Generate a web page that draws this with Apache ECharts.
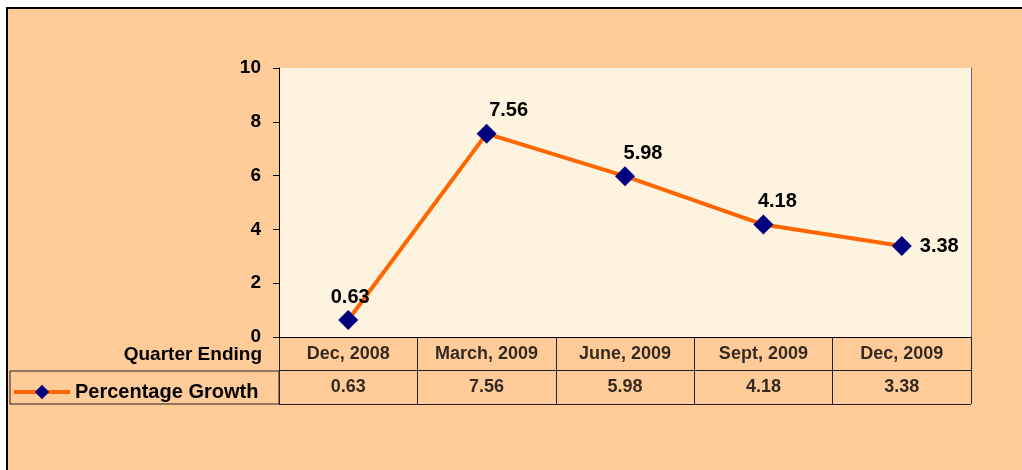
<!DOCTYPE html>
<html>
<head>
<meta charset="utf-8">
<script src="https://cdn.jsdelivr.net/npm/echarts@6/dist/echarts.min.js"></script>
<style>
  html, body { margin: 0; padding: 0; background: #fff; }
  #growth { width: 1022px; height: 470px; }
</style>
</head>
<body>
<div id="growth"></div>
<script>
  // data
  var quarters = ["Dec, 2008", "March, 2009", "June, 2009", "Sept, 2009", "Dec, 2009"];
  var growth = [0.63, 7.56, 5.98, 4.18, 3.38];
  var yTicks = [0, 2, 4, 6, 8, 10];
  var seriesName = "Percentage Growth";
  var rowHeader = "Quarter Ending";

  // label placement per point (style only)
  var labelPlace = [
    { position: "top", offset: [2, 0] },
    { position: "top", offset: [22, 0] },
    { position: "top", offset: [18, 0] },
    { position: "top", offset: [14, 0] },
    { position: "right", offset: [5, 0] }
  ];

  var font = "Liberation Sans, Arial, sans-serif";
  var myChart = echarts.init(document.getElementById("growth"));

  var lineData = growth.map(function (v, i) {
    return { value: v, label: labelPlace[i] };
  });
  var headRow = quarters.map(function (q) { return [q, 1.5]; });
  var valueRow = quarters.map(function (q, i) { return [q, 0.5, growth[i]]; });

  var option = {
    animation: false,
    textStyle: { fontFamily: font },
    graphic: [
      {
        type: "rect",
        z: -10,
        shape: { x: 7, y: 8, width: 1040, height: 490 },
        style: { fill: "#FFCC99", stroke: "#000", lineWidth: 2 }
      },
      {
        type: "rect",
        shape: { x: 10, y: 371, width: 269, height: 33 },
        style: { fill: "none", stroke: "#222", lineWidth: 1 }
      },
      {
        type: "text",
        x: 262,
        y: 355,
        style: {
          text: rowHeader,
          font: "bold 19px " + font,
          fill: "#000",
          align: "right",
          verticalAlign: "middle"
        }
      }
    ],
    legend: {
      data: [seriesName],
      left: 7,
      top: 377,
      itemWidth: 56,
      itemHeight: 18,
      itemGap: 4,
      lineStyle: { width: 4 },
      textStyle: { fontSize: 20, fontWeight: "bold", color: "#000", fontFamily: font }
    },
    grid: [
      {
        left: 279, right: 51, top: 68, bottom: 133,
        show: true, backgroundColor: "#FDF3DE", borderWidth: 0
      },
      {
        left: 279, right: 51, top: 337, height: 67,
        show: false
      }
    ],
    xAxis: [
      {
        type: "category",
        gridIndex: 0,
        data: quarters,
        boundaryGap: true,
        axisLine: { lineStyle: { color: "#000", width: 1 } },
        axisTick: { show: false },
        axisLabel: { show: false }
      },
      {
        type: "category",
        gridIndex: 1,
        data: quarters,
        boundaryGap: true,
        axisLine: { show: false },
        axisTick: { show: false },
        axisLabel: { show: false },
        splitLine: { show: true, lineStyle: { color: "#222", width: 1 } }
      }
    ],
    yAxis: [
      {
        type: "value",
        gridIndex: 0,
        min: yTicks[0],
        max: yTicks[yTicks.length - 1],
        interval: 2,
        axisLine: { show: true, lineStyle: { color: "#000", width: 1 } },
        axisTick: { show: true, length: 6, lineStyle: { color: "#000" } },
        splitLine: { show: false },
        axisLabel: { fontSize: 19, fontWeight: "bold", color: "#000", margin: 18, fontFamily: font }
      },
      {
        type: "value",
        gridIndex: 1,
        min: 0,
        max: 2,
        interval: 1,
        axisLine: { show: false },
        axisTick: { show: false },
        axisLabel: { show: false },
        splitLine: { show: true, lineStyle: { color: "#222", width: 1 } }
      },
      {
        type: "value",
        gridIndex: 0,
        position: "right",
        min: yTicks[0],
        max: yTicks[yTicks.length - 1],
        axisLine: { show: true, lineStyle: { color: "#666", width: 1 } },
        axisTick: { show: false },
        axisLabel: { show: false },
        splitLine: { show: false }
      }
    ],
    series: [
      {
        name: seriesName,
        type: "line",
        xAxisIndex: 0,
        yAxisIndex: 0,
        data: lineData,
        symbol: "diamond",
        symbolSize: 20,
        lineStyle: { color: "#FF6600", width: 4 },
        itemStyle: { color: "#000080" },
        label: {
          show: true,
          fontSize: 20,
          fontWeight: "bold",
          color: "#000",
          distance: 3,
          fontFamily: font
        }
      },
      {
        name: "head",
        type: "scatter",
        xAxisIndex: 1,
        yAxisIndex: 1,
        data: headRow,
        symbolSize: 1,
        itemStyle: { color: "transparent" },
        silent: true,
        label: {
          show: true,
          position: "inside",
          formatter: function (p) { return p.value[0]; },
          fontSize: 18,
          fontWeight: "bold",
          color: "#000",
          fontFamily: font
        }
      },
      {
        name: "values",
        type: "scatter",
        xAxisIndex: 1,
        yAxisIndex: 1,
        data: valueRow,
        symbolSize: 1,
        itemStyle: { color: "transparent" },
        silent: true,
        label: {
          show: true,
          position: "inside",
          formatter: function (p) { return p.value[2].toFixed(2); },
          fontSize: 18,
          fontWeight: "bold",
          color: "#000",
          fontFamily: font
        }
      }
    ]
  };
  myChart.setOption(option);
</script>
</body>
</html>
